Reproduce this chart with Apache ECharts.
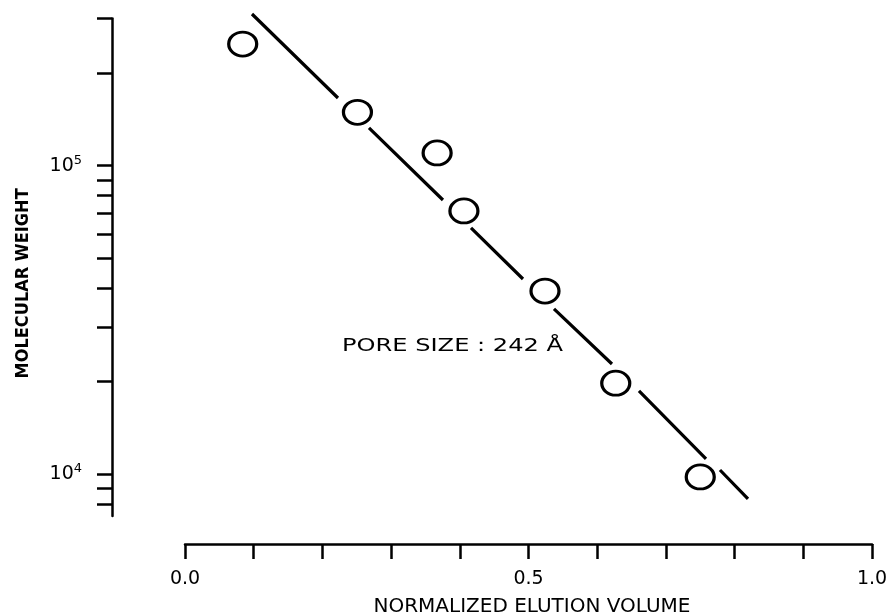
<!DOCTYPE html>
<html>
<head>
<meta charset="utf-8">
<script src="https://cdn.jsdelivr.net/npm/echarts@6/dist/echarts.min.js"></script>
<style>
html, body { margin: 0; padding: 0; background: #ffffff; }
#chart { width: 892px; height: 613px; }
</style>
</head>
<body>
<div id="chart"></div>
<script>
// Measured points (normalized elution volume vs molecular weight)
const elutionVolume = [0.084, 0.251, 0.367, 0.406, 0.524, 0.627, 0.750];
const molecularWeight = [248000, 149000, 110000, 71300, 39200, 19700, 9780];

// Calibration line, drawn as broken segments (null = gap)
const fitLineVolume = [0.0975, 0.2227, null, 0.2678, 0.3755, null, 0.4163, 0.4920, null, 0.5371, 0.6215, null, 0.6608, 0.7584, null, 0.7787, 0.8195];
const fitLineWeight = [310500, 165800, null, 132600, 77400, null, 62800, 42900, null, 34300, 22740, null, 18590, 11190, null, 10300, 8296];

// Tick values / labels
const xLabelValues = [0, 0.5, 1.0];
const yTickValues = [8000, 9000, 10000, 20000, 30000, 40000, 50000, 60000, 70000, 80000, 90000, 100000, 200000, 300000];
const yLabelValues = [10000, 100000];

const xAxisTitle = 'NORMALIZED ELUTION VOLUME';
const yAxisTitle = 'MOLECULAR WEIGHT';
const annotation = 'PORE SIZE : 242 Å';

const FONT = 'DejaVu Sans';

const ellipsePath = 'path://M-1,0A1,1,0,1,0,1,0A1,1,0,1,0,-1,0Z';

const chart = echarts.init(document.getElementById('chart'), null, { renderer: 'canvas' });

const option = {
  backgroundColor: '#ffffff',
  animation: false,
  grid: { left: 185, top: 18.6, width: 687, height: 497.5, containLabel: false, outerBoundsMode: 'none' },
  xAxis: {
    type: 'value',
    min: 0,
    max: 1,
    interval: 0.1,
    offset: 28,
    name: xAxisTitle,
    nameLocation: 'middle',
    nameGap: 53,
    nameTextStyle: { fontFamily: FONT, fontSize: 20, color: '#000', padding: [0, 0, 0, 7] },
    axisLine: { show: true, onZero: false, lineStyle: { color: '#000', width: 2.5 } },
    axisTick: { show: true, inside: false, length: 15, lineStyle: { color: '#000', width: 2.5 } },
    axisLabel: {
      customValues: xLabelValues,
      formatter: v => Number(v).toFixed(1),
      margin: 25,
      fontFamily: FONT,
      fontSize: 19,
      color: '#000'
    },
    splitLine: { show: false }
  },
  yAxis: {
    type: 'log',
    logBase: 10,
    min: 7300,
    max: 300000,
    offset: 73,
    name: yAxisTitle,
    nameLocation: 'middle',
    nameRotate: 90,
    nameGap: 80,
    nameTextStyle: { fontFamily: 'DejaVu Sans Condensed', fontWeight: 'bold', fontSize: 18, color: '#000', padding: [0, 32, 0, 0] },
    axisLine: { show: true, onZero: false, lineStyle: { color: '#000', width: 2.5 } },
    axisTick: { show: true, inside: false, length: 15, customValues: yTickValues, lineStyle: { color: '#000', width: 2.5 } },
    axisLabel: {
      customValues: yLabelValues,
      formatter: v => '{b|10}{s|' + Math.round(Math.log10(v)) + '}',
      margin: 30,
      rich: {
        b: { fontFamily: FONT, fontSize: 19, color: '#000', lineHeight: 23 },
        s: { fontFamily: FONT, fontSize: 13, color: '#000', lineHeight: 16, verticalAlign: 'top' }
      }
    },
    splitLine: { show: false },
    minorTick: { show: false }
  },
  series: [
    {
      type: 'line',
      data: fitLineVolume.map((x, i) => x === null ? ['-', '-'] : [x, fitLineWeight[i]]),
      symbol: 'none',
      showSymbol: false,
      connectNulls: false,
      clip: false,
      lineStyle: { color: '#000', width: 3.2 },
      z: 2,
      silent: true
    },
    {
      type: 'scatter',
      data: elutionVolume.map((x, i) => [x, molecularWeight[i]]),
      symbol: ellipsePath,
      symbolSize: [28, 24],
      itemStyle: { color: 'rgba(255,255,255,0)', borderColor: '#000', borderWidth: 3, opacity: 1 },
      clip: false,
      z: 3
    }
  ],
  graphic: [
    {
      type: 'text',
      x: 342,
      y: 346,
      scaleX: 1.34,
      style: {
        text: annotation,
        x: 0,
        y: 0,
        align: 'left',
        verticalAlign: 'middle',
        fontFamily: FONT,
        fontSize: 18,
        fill: '#000'
      }
    }
  ]
};

chart.setOption(option);
</script>
</body>
</html>
